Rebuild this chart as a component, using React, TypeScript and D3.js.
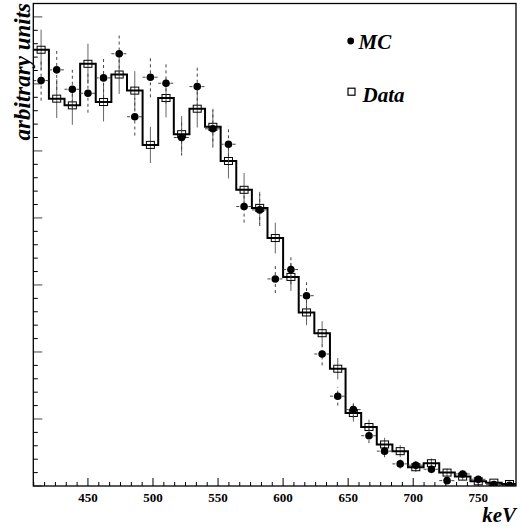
import React from "react";
import * as d3 from "d3";

// ---- data ----
const binCenters = [414, 426, 438, 450, 462, 474, 486, 498, 510, 522, 534, 546, 558, 570, 582, 594, 606, 618, 630, 642, 654, 666, 678, 690, 702, 714, 726, 738, 750, 762, 774];
const dataValues = [651, 578, 568, 630, 573, 614, 590, 509, 579, 525, 563, 536, 485, 442, 415, 370, 312, 259, 228, 175, 109, 88, 62, 52, 28, 34, 20, 14, 7, 5, 3];
const dataErrors = [30, 29, 29, 30, 29, 29, 29, 27, 29, 27, 28, 27, 26, 25, 24, 23, 21, 19, 18, 16, 13, 11, 10, 9, 7, 7, 6, 5, 4, 3, 3];
const mcValues = [605, 621, 592, 586, 609, 645, 551, 610, 601, 520, 596, 533, 510, 417, 412, 309, 323, 284, 197, 134, 114, 75, 52, 33, 31, 25, 8, 18, 10, 2, 1];
const mcErrors = [30, 30, 29, 29, 30, 31, 28, 30, 30, 27, 30, 28, 27, 24, 24, 21, 22, 20, 17, 14, 13, 11, 9, 7, 7, 6, 4, 5, 4, 2, 2];
const xTickLabels = [450, 500, 550, 600, 650, 700, 750];
const binWidth = 12;
const xDomain: [number, number] = [408, 779];
const yDomain: [number, number] = [0, 720];

const W = 520;
const H = 529;
const L = 33.3, R = 516, T = 3.5, B = 486;

export default function App() {
  const x = d3.scaleLinear().domain(xDomain).range([L, R]);
  const y = d3.scaleLinear().domain(yDomain).range([B, T]);

  const stepPts: [number, number][] = [];
  binCenters.forEach((c, i) => {
    stepPts.push([c - binWidth / 2, dataValues[i]]);
    stepPts.push([c + binWidth / 2, dataValues[i]]);
  });
  const stepLine = d3
    .line<[number, number]>()
    .x((d) => x(d[0]))
    .y((d) => y(d[1]));

  const xMinor: number[] = [];
  for (let k = -6; k <= 40; k++) {
    if (k % 6 === 0) continue;
    const v = 450 + (k * 50) / 6;
    if (v > xDomain[0] && v < xDomain[1]) xMinor.push(v);
  }
  const yMajor = d3.range(0, 701, 100);
  const yMinor = d3.range(0, yDomain[1] + 0.1, 20).filter((v) => v % 100 !== 0);

  const serif = "'Liberation Serif', 'Times New Roman', serif";

  return (
    <svg width={W} height={H} style={{ position: "absolute", left: 0, top: 0, background: "#fff" }}>
      <defs>
        <clipPath id="plotClip">
          <rect x={L} y={T} width={R - L} height={B - T} />
        </clipPath>
      </defs>
      <rect x={0} y={0} width={W} height={H} fill="#fff" />

      {/* ticks */}
      {xTickLabels.map((v) => (
        <line key={"xM" + v} x1={x(v)} x2={x(v)} y1={B} y2={B - 8} stroke="#000" strokeWidth={1} />
      ))}
      {xMinor.map((v, i) => (
        <line key={"xm" + i} x1={x(v)} x2={x(v)} y1={B} y2={B - 4} stroke="#000" strokeWidth={1} />
      ))}
      {yMajor.map((v) => (
        <line key={"yM" + v} x1={L} x2={L + 9} y1={y(v)} y2={y(v)} stroke="#444" strokeWidth={1} />
      ))}
      {yMinor.map((v) => (
        <line key={"ym" + v} x1={L} x2={L + 4.5} y1={y(v)} y2={y(v)} stroke="#000" strokeWidth={1} />
      ))}

      <g clipPath="url(#plotClip)">
        {binCenters.map((c, i) => (
          <line
            key={"de" + i}
            x1={x(c)}
            x2={x(c)}
            y1={y(dataValues[i] - dataErrors[i])}
            y2={y(dataValues[i] + dataErrors[i])}
            stroke="#666"
            strokeWidth={1}
          />
        ))}
        <path d={stepLine(stepPts) || ""} fill="none" stroke="#000" strokeWidth={2} />
        {binCenters.map((c, i) => (
          <rect
            key={"ds" + i}
            x={x(c) - 4}
            y={y(dataValues[i]) - 3.5}
            width={8}
            height={7}
            fill="none"
            stroke="#000"
            strokeWidth={1}
          />
        ))}
        {binCenters.map((c, i) => (
          <g key={"me" + i}>
            <line
              x1={x(c)}
              x2={x(c)}
              y1={y(mcValues[i] - mcErrors[i])}
              y2={y(mcValues[i] + mcErrors[i])}
              stroke="#444"
              strokeWidth={1}
              strokeDasharray="3,3"
            />
            <line
              x1={x(c - binWidth / 2)}
              x2={x(c + binWidth / 2)}
              y1={y(mcValues[i])}
              y2={y(mcValues[i])}
              stroke="#444"
              strokeWidth={1}
              strokeDasharray="3,3"
            />
          </g>
        ))}
        {binCenters.map((c, i) => (
          <circle key={"mc" + i} cx={x(c)} cy={y(mcValues[i])} r={3.8} fill="#000" />
        ))}
      </g>

      <rect x={L} y={T} width={R - L} height={B - T} fill="none" stroke="#000" strokeWidth={1.3} />

      {xTickLabels.map((v) => (
        <text key={"xl" + v} x={x(v)} y={502} textAnchor="middle" fontFamily={serif} fontWeight="bold" fontSize={13} fill="#000">
          {v}
        </text>
      ))}

      <text x={516} y={521.5} textAnchor="end" fontFamily={serif} fontWeight="bold" fontStyle="italic" fontSize={21} fill="#000">
        keV
      </text>
      <text
        transform={`translate(30,3) rotate(-90)`}
        textAnchor="end"
        fontFamily={serif}
        fontWeight="bold"
        fontStyle="italic"
        fontSize={23}
        fill="#000"
      >
        arbitrary units
      </text>

      {/* legend */}
      <circle cx={350.7} cy={41} r={3.4} fill="#000" />
      <text x={358.5} y={49} fontFamily={serif} fontWeight="bold" fontStyle="italic" fontSize={21} fill="#000">
        MC
      </text>
      <rect x={348} y={88.2} width={7} height={7} fill="#fff" stroke="#000" strokeWidth={1.2} />
      <text x={362.5} y={101.5} fontFamily={serif} fontWeight="bold" fontStyle="italic" fontSize={21} fill="#000">
        Data
      </text>
    </svg>
  );
}
